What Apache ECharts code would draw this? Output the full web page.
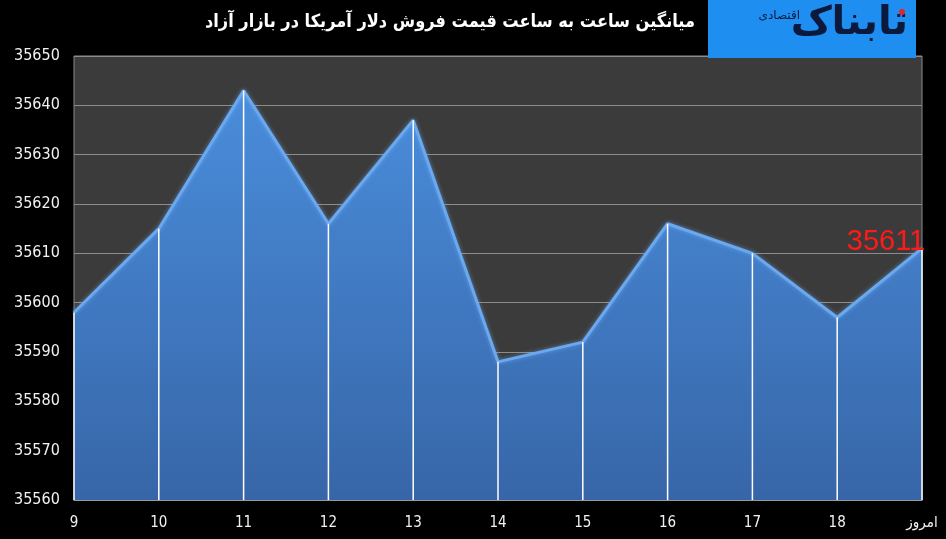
<!DOCTYPE html>
<html>
<head>
<meta charset="utf-8">
<script src="https://cdn.jsdelivr.net/npm/echarts@6/dist/echarts.min.js"></script>
<style>html,body{margin:0;padding:0;background:#000;}#c{width:946px;height:539px;}</style>
</head>
<body>
<div id="c"></div>
<script>
const categories = ['9','10','11','12','13','14','15','16','17','18','امروز'];
const prices = [35598, 35615, 35643, 35616, 35637, 35588, 35592, 35616, 35610, 35597, 35611];
const yMin = 35560, yMax = 35650, yStep = 10;
const titleText = 'میانگین ساعت به ساعت قیمت فروش دلار آمریکا در بازار آزاد';

const chart = echarts.init(document.getElementById('c'));
const last = prices.length - 1;
chart.setOption({
  backgroundColor: '#000',
  animation: false,
  grid: {left: 74, right: 24, top: 56, bottom: 39, show: true, backgroundColor: '#3b3b3b', borderColor: '#8a8a8a', borderWidth: 1},
  xAxis: {
    type: 'category', data: categories, boundaryGap: false,
    axisLine: {lineStyle: {color: '#9a9a9a'}},
    axisTick: {show: false},
    splitLine: {show: false},
    axisLabel: {color: '#f2f2f2', fontSize: 15, fontFamily: 'DejaVu Sans Condensed, DejaVu Sans', margin: 16, interval: 0}
  },
  yAxis: {
    type: 'value', min: yMin, max: yMax, interval: yStep,
    axisLine: {show: false}, axisTick: {show: false},
    splitLine: {lineStyle: {color: '#8c8c8c', width: 1}},
    axisLabel: {color: '#f2f2f2', fontSize: 16, fontFamily: 'DejaVu Sans Condensed, DejaVu Sans', align: 'left', margin: 60, formatter: v => String(v)}
  },
  series: [
    {
      type: 'line', data: prices, symbol: 'none', z: 2,
      lineStyle: {color: '#6aa9ef', width: 3, shadowColor: 'rgba(120,180,255,0.6)', shadowBlur: 4},
      areaStyle: {opacity: 1, color: new echarts.graphic.LinearGradient(0, 0, 0, 1, [
        {offset: 0, color: '#4a8ddb'}, {offset: 1, color: '#3766a8'}
      ])}
    },
    {
      type: 'bar', data: prices, barWidth: 1.5, z: 3,
      itemStyle: {color: '#ffffff'}
    },
    {
      type: 'line', data: prices.map((v, i) => i === last ? v : '-'), symbol: 'circle', symbolSize: 1, showSymbol: true, z: 5,
      itemStyle: {color: 'rgba(0,0,0,0)'},
      lineStyle: {width: 0},
      label: {show: true, position: 'top', offset: [-36, 14], color: '#ff1a1a', fontSize: 29, fontFamily: 'Liberation Sans, Arial'}
    }
  ],
  graphic: [
    {type: 'text', x: 450, y: 13, style: {text: titleText, fill: '#ffffff', font: 'bold 18px "DejaVu Sans Condensed", "DejaVu Sans"', align: 'center'}, z: 10, silent: true},
    {type: 'rect', shape: {x: 708, y: 0, width: 208, height: 58}, style: {fill: '#1f8ef1'}, z: 20},
    {type: 'text', x: 908, y: 4, style: {text: 'تابناک', fill: '#0b1a3c', font: 'bold 40px "DejaVu Sans"', align: 'right'}, z: 21},
    {type: 'text', x: 800, y: 10, style: {text: 'اقتصادی', fill: '#0b1a3c', font: '12px "DejaVu Sans"', align: 'right'}, z: 21},
    {type: 'circle', shape: {cx: 902, cy: 12, r: 3}, style: {fill: '#e8202a'}, z: 22}
  ]
});
</script>
</body>
</html>
